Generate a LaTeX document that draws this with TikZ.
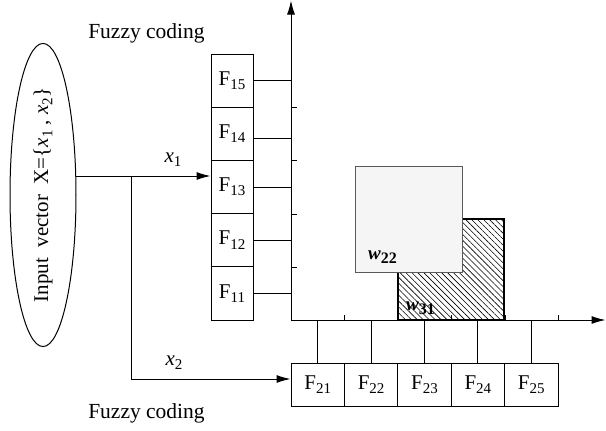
\documentclass[tikz,border=0pt]{standalone}
\usepackage{fontspec}
\setmainfont{Liberation Serif}
\usetikzlibrary{shapes.geometric,patterns.meta,arrows.meta}
\newcommand{\Fl}[1]{F\raisebox{-0.45ex}{\fontsize{15}{15}\selectfont #1}}
\newcommand{\xl}[1]{\textit{x}\raisebox{-0.45ex}{\fontsize{15}{15}\selectfont #1}}
\begin{document}
\begin{tikzpicture}[x=1pt,y=-1pt,line width=1pt,
  fcell/.style={draw, minimum width=42pt, minimum height=53.2pt, inner sep=0pt, font=\fontsize{21}{21}\selectfont},
  gcell/.style={draw, minimum width=53.4pt, minimum height=43pt, inner sep=0pt, font=\fontsize{21}{21}\selectfont},
  arr/.style={-{Latex[length=14pt,width=8pt]}},
  lbl/.style={font=\fontsize{21.5}{22}\selectfont, inner sep=0pt},
  wlbl/.style={font=\fontsize{19}{19}\selectfont\bfseries\itshape, inner sep=0pt}]
\useasboundingbox (0,0) rectangle (606,431);
% input ellipse
\node[draw, ellipse, rotate=90, minimum width=276pt, minimum height=66pt, inner sep=0pt,
  font=\fontsize{21}{21}\selectfont] (in) at (43,195)
  {Input\ \ vector\ \ X=\{\xl{1} , \xl{2}\}};
% fuzzy coding stack 1
\node[fcell] (F15) at (232,80.6) {\Fl{15}};
\node[fcell] (F14) at (232,133.8) {\Fl{14}};
\node[fcell] (F13) at (232,187) {\Fl{13}};
\node[fcell] (F12) at (232,240.2) {\Fl{12}};
\node[fcell] (F11) at (232,293.4) {\Fl{11}};
% fuzzy coding row 2
\node[gcell] (F21) at (317.7,384.5) {\Fl{21}};
\node[gcell] (F22) at (371.1,384.5) {\Fl{22}};
\node[gcell] (F23) at (424.5,384.5) {\Fl{23}};
\node[gcell] (F24) at (477.9,384.5) {\Fl{24}};
\node[gcell] (F25) at (531.3,384.5) {\Fl{25}};
% labels
\node[lbl] (fc1) at (146.5,33) {Fuzzy coding};
\node[lbl] (fc2) at (146.5,413) {Fuzzy coding};
\node[font=\fontsize{21}{21}\selectfont, inner sep=0pt] (lx1) at (173,160) {\xl{1}};
\node[font=\fontsize{21}{21}\selectfont, inner sep=0pt] (lx2) at (174,363) {\xl{2}};
% axes
\coordinate (O) at (291,320);
\coordinate (Ytop) at (291,0.5);
\coordinate (Xend) at (605.5,320);
\draw[arr] (O) -- (Ytop);
\draw[arr] (O) -- (Xend);
% ticks
\foreach \n in {F15,F14,F13,F12} \draw (\n.south -| O) -- ++(6,0);
\foreach \n in {F21,F22,F23,F24,F25} \draw (\n.east |- O) -- ++(0,-5);
% connections stack 1 -> y axis
\draw (F15.east) -- (F15.east -| O);
\draw ([yshift=-5pt]F14.east) -- ([yshift=-5pt]F14.east -| O);
\draw (F13.east) -- (F13.east -| O);
\draw (F12.east) -- (F12.east -| O);
\draw (F11.east) -- (F11.east -| O);
% connections row 2 -> x axis
\foreach \n in {F21,F22,F23,F24,F25} \draw (\n.north) -- (\n.north |- O);
% input lines
\coordinate (s) at (75.7,176);
\coordinate (br) at (131,176);
\coordinate (bend) at (131,379);
\draw[arr] (s) -- (s -| F13.west);
\draw (br) -- (bend);
\draw[arr] (bend) -- (bend -| F21.west);
% weight squares
\fill[pattern={Lines[angle=-45,distance=4.2pt,line width=0.6pt]}] (398,219) rectangle (504,320);
\draw[line width=2pt] (398,219) rectangle (504,320);
\filldraw[fill=gray!8, draw=gray!70!black, line width=0.9pt] (355,166) rectangle (462,272);
\node[wlbl] (w22) at (382.5,257) {w\raisebox{-0.4ex}{\upshape\fontsize{16}{16}\selectfont 22}};
\node[wlbl] (w31) at (420.5,308) {w\raisebox{-0.4ex}{\upshape\fontsize{16}{16}\selectfont 31}};
\end{tikzpicture}
\end{document}
